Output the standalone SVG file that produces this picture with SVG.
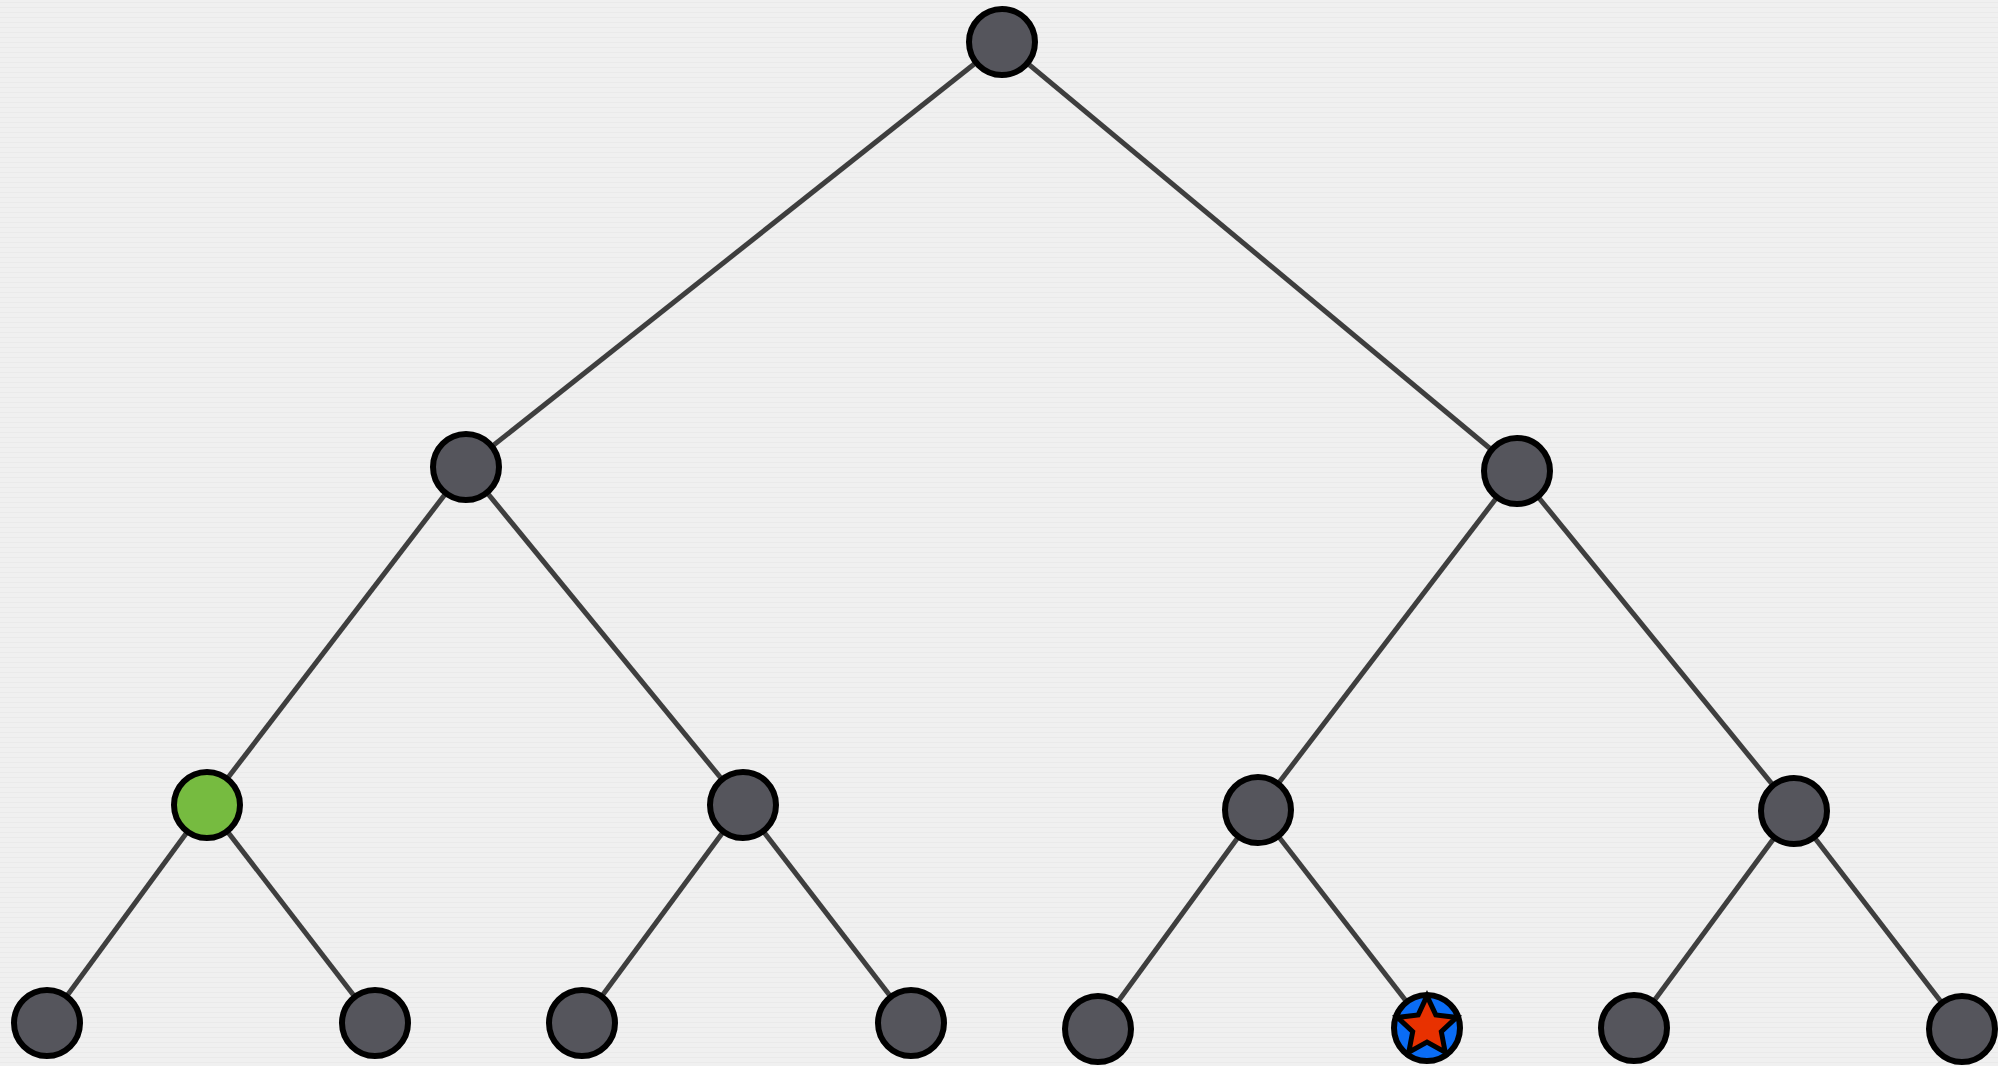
<svg xmlns="http://www.w3.org/2000/svg" width="1998" height="1066" viewBox="0 0 1998 1066">
<style>
.edge{stroke:#3e3e3e;stroke-width:5;fill:none;stroke-linecap:butt}
.node{fill:#55555c;stroke:#000;stroke-width:6}
.green{fill:#76bb40}
.blue{fill:#0a6cf5}
.star{fill:#e83100;stroke:#000;stroke-width:5;stroke-linejoin:miter}
</style>
<defs>
<pattern id="paper" width="60" height="5" patternUnits="userSpaceOnUse">
<rect width="60" height="5" fill="#f0f0f0"/>
<rect y="2" width="60" height="1" fill="#eaeaea"/>
</pattern>
</defs>
<rect width="1998" height="1066" fill="url(#paper)"/>
<g id="connectors">
<line class="edge" x1="1002" y1="42" x2="466" y2="467"/>
<line class="edge" x1="1002" y1="42" x2="1517" y2="471"/>
<line class="edge" x1="466" y1="467" x2="207" y2="805"/>
<line class="edge" x1="466" y1="467" x2="743" y2="805"/>
<line class="edge" x1="1517" y1="471" x2="1258" y2="810"/>
<line class="edge" x1="1517" y1="471" x2="1794" y2="811"/>
<line class="edge" x1="207" y1="805" x2="47" y2="1023"/>
<line class="edge" x1="207" y1="805" x2="375" y2="1023"/>
<line class="edge" x1="743" y1="805" x2="582" y2="1023"/>
<line class="edge" x1="743" y1="805" x2="911" y2="1023"/>
<line class="edge" x1="1258" y1="810" x2="1098" y2="1029"/>
<line class="edge" x1="1258" y1="810" x2="1427" y2="1028"/>
<line class="edge" x1="1794" y1="811" x2="1634" y2="1028"/>
<line class="edge" x1="1794" y1="811" x2="1962" y2="1029"/>
</g>
<g id="n0"><circle class="node" cx="1002" cy="42" r="33"/></g>
<g id="n1"><circle class="node" cx="466" cy="467" r="33"/></g>
<g id="n2"><circle class="node" cx="1517" cy="471" r="33"/></g>
<g id="n3"><circle class="node green" cx="207" cy="805" r="33"/></g>
<g id="n4"><circle class="node" cx="743" cy="805" r="33"/></g>
<g id="n5"><circle class="node" cx="1258" cy="810" r="33"/></g>
<g id="n6"><circle class="node" cx="1794" cy="811" r="33"/></g>
<g id="n7"><circle class="node" cx="47" cy="1023" r="33"/></g>
<g id="n8"><circle class="node" cx="375" cy="1023" r="33"/></g>
<g id="n9"><circle class="node" cx="582" cy="1023" r="33"/></g>
<g id="n10"><circle class="node" cx="911" cy="1023" r="33"/></g>
<g id="n11"><circle class="node" cx="1098" cy="1029" r="33"/></g>
<g id="n12"><circle class="node blue" cx="1427" cy="1028" r="33"/>
<polygon class="star" points="1427,996 1435.8,1014.9 1456.5,1017.4 1441.3,1031.6 1445.2,1052.1 1427,1042 1408.8,1052.1 1412.7,1031.6 1397.5,1017.4 1418.2,1014.9"/></g>
<g id="n13"><circle class="node" cx="1634" cy="1028" r="33"/></g>
<g id="n14"><circle class="node" cx="1962" cy="1029" r="33"/></g>
</svg>
